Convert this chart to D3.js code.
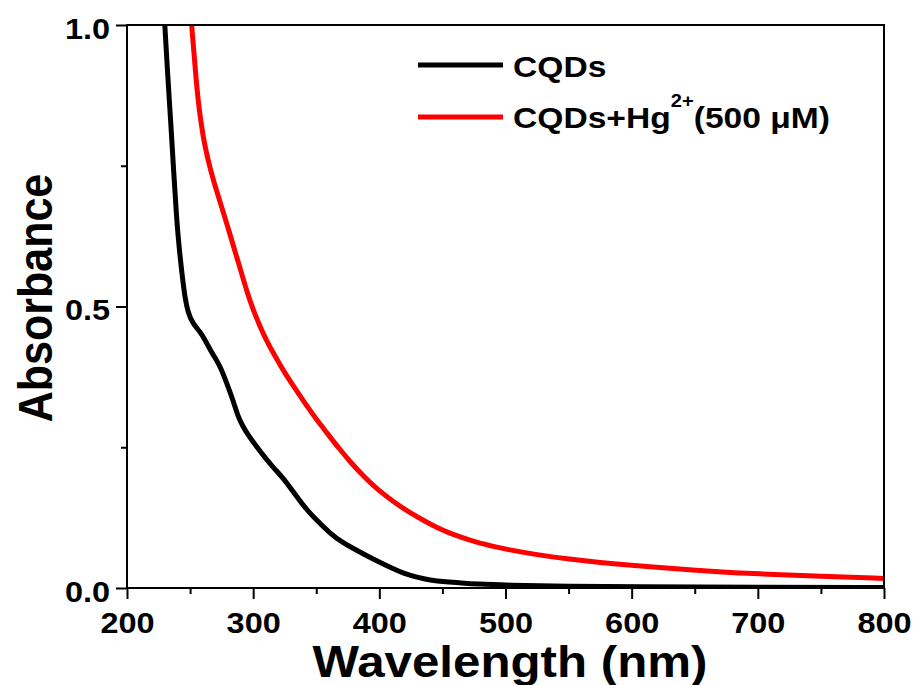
<!DOCTYPE html>
<html>
<head>
<meta charset="utf-8">
<script src="https://cdn.jsdelivr.net/npm/d3@7"></script>
<style>
  body { margin: 0; background: #fff; }
  svg text { font-family: "Liberation Sans", Arial, sans-serif; font-weight: bold; fill: #000; }
</style>
</head>
<body>
<div id="chart"></div>
<script>
// UV-vis absorbance
var cqdsWave = [226, 228, 230, 232, 234.6, 237, 239.3, 241.5, 244, 246, 248.3, 252, 258, 262, 266, 270, 274, 279, 284, 288, 292, 295, 303, 310, 316, 324, 334, 342, 350, 361, 370, 382, 392, 400, 410, 419, 430, 440, 453, 465, 477, 500, 550, 600, 700, 800];
var cqdsAbs = [1.15, 1.07, 1.0, 0.92, 0.83, 0.74, 0.655, 0.6, 0.55, 0.515, 0.49, 0.47, 0.455, 0.44, 0.423, 0.408, 0.393, 0.364, 0.334, 0.304, 0.287, 0.275, 0.25, 0.23, 0.214, 0.195, 0.164, 0.14, 0.121, 0.097, 0.082, 0.067, 0.055, 0.046, 0.035, 0.026, 0.019, 0.014, 0.011, 0.009, 0.007, 0.005, 0.003, 0.002, 0.0015, 0.001];

var hgWave = [246, 248, 251.2, 255.2, 257.5, 260.4, 264, 268.3, 273.6, 277.6, 281.5, 286, 290.8, 295, 300, 305, 310, 317, 324, 330, 337, 343, 350, 357, 363, 370, 376.5, 388, 400, 412, 424, 435, 445, 455, 465, 477, 490, 500, 525, 551, 575, 600, 638, 660, 700, 750, 800];
var hgAbs = [1.17, 1.1, 1.0, 0.89, 0.845, 0.8, 0.762, 0.725, 0.687, 0.658, 0.629, 0.595, 0.559, 0.527, 0.494, 0.467, 0.442, 0.413, 0.386, 0.365, 0.342, 0.322, 0.3, 0.28, 0.262, 0.243, 0.225, 0.197, 0.172, 0.152, 0.134, 0.12, 0.108, 0.098, 0.09, 0.081, 0.074, 0.069, 0.059, 0.051, 0.045, 0.04, 0.034, 0.03, 0.025, 0.021, 0.017];

var xMajor = [200, 300, 400, 500, 600, 700, 800];
var xMinor = [250, 350, 450, 550, 650, 750];
var yMajor = [0, 0.5, 1.0];
var yMinor = [0.25, 0.75];

var seriesNames = ["CQDs", "CQDs+Hg"];
var seriesColors = ["#000000", "#ff0000"];

var width = 916, height = 685;
var plotLeft = 127, plotRight = 884, plotTop = 25, plotBottom = 588;
var stretch = 1.12;   // the original lettering is a bit wide

var svg = d3.select("#chart").append("svg")
    .attr("width", width)
    .attr("height", height);

var x = d3.scaleLinear().domain([200, 800]).range([plotLeft, plotRight]);
var y = d3.scaleLinear().domain([0, 1]).range([plotBottom, plotTop]);

// clip curves to the plot box
svg.append("clipPath").attr("id", "plotclip")
    .append("rect")
    .attr("x", plotLeft).attr("y", plotTop)
    .attr("width", plotRight - plotLeft).attr("height", plotBottom - plotTop);

var line = d3.line()
    .x(d => x(d[0]))
    .y(d => y(d[1]))
    .curve(d3.curveBasis);

var cqds = cqdsWave.map((w, i) => [w, cqdsAbs[i]]);
var hg = hgWave.map((w, i) => [w, hgAbs[i]]);

var curves = svg.append("g").attr("clip-path", "url(#plotclip)");
[cqds, hg].forEach((data, i) => {
    curves.append("path")
        .datum(data)
        .attr("d", line)
        .attr("fill", "none")
        .attr("stroke", seriesColors[i])
        .attr("stroke-width", 5)
        .attr("stroke-linejoin", "round");
});

// frame
svg.append("rect")
    .attr("x", plotLeft).attr("y", plotTop)
    .attr("width", plotRight - plotLeft).attr("height", plotBottom - plotTop)
    .attr("fill", "none")
    .attr("stroke", "#000")
    .attr("stroke-width", 2);

// bottom axis
var xAxis = svg.append("g")
    .attr("transform", "translate(0," + plotBottom + ")")
    .call(d3.axisBottom(x).tickValues(xMajor).tickSize(11).tickFormat(d3.format("d")));
var xAxisMinor = svg.append("g")
    .attr("transform", "translate(0," + plotBottom + ")")
    .call(d3.axisBottom(x).tickValues(xMinor).tickSize(6).tickFormat(""));

// left axis
var yAxis = svg.append("g")
    .attr("transform", "translate(" + plotLeft + ",0)")
    .call(d3.axisLeft(y).tickValues(yMajor).tickSize(11).tickFormat(d3.format(".1f")));
var yAxisMinor = svg.append("g")
    .attr("transform", "translate(" + plotLeft + ",0)")
    .call(d3.axisLeft(y).tickValues(yMinor).tickSize(6).tickFormat(""));

[xAxis, xAxisMinor, yAxis, yAxisMinor].forEach(g => {
    g.select(".domain").remove();
    g.selectAll("line").attr("stroke", "#000").attr("stroke-width", 2);
});

xAxis.selectAll("text")
    .attr("y", 45).attr("dy", null)
    .attr("transform", "scale(" + stretch + ",1)")
    .style("font-size", "29px")
    .style("font-family", "'Liberation Sans', Arial, sans-serif")
    .style("font-weight", "bold");

yAxis.selectAll("text")
    .attr("x", -17 / stretch).attr("y", 13).attr("dy", null)
    .attr("transform", "scale(" + stretch + ",1)")
    .style("font-size", "29px")
    .style("font-family", "'Liberation Sans', Arial, sans-serif")
    .style("font-weight", "bold");

// axis titles
svg.append("text")
    .attr("transform", "translate(510,677) scale(" + stretch + ",1)")
    .attr("text-anchor", "middle")
    .style("font-size", "44px")
    .text("Wavelength (nm)");

svg.append("text")
    .attr("transform", "translate(52,298) rotate(-90) scale(1," + stretch + ")")
    .attr("text-anchor", "middle")
    .style("font-size", "43px")
    .text("Absorbance");

// legend
var legendY = [65, 117];
legendY.forEach((ly, i) => {
    svg.append("line")
        .attr("x1", 418).attr("x2", 503)
        .attr("y1", ly).attr("y2", ly)
        .attr("stroke", seriesColors[i])
        .attr("stroke-width", 5);
});

svg.append("text")
    .attr("transform", "translate(513," + (legendY[0] + 12) + ") scale(" + stretch + ",1)")
    .style("font-size", "30px")
    .text(seriesNames[0]);

var lab2 = svg.append("text")
    .attr("transform", "translate(513," + (legendY[1] + 11) + ") scale(" + stretch + ",1)")
    .style("font-size", "30px");
lab2.append("tspan").text(seriesNames[1]);
lab2.append("tspan").attr("dy", -21).style("font-size", "18px").text("2+");
lab2.append("tspan").attr("dy", 21).text("(500 \u03BCM)");
</script>
</body>
</html>
